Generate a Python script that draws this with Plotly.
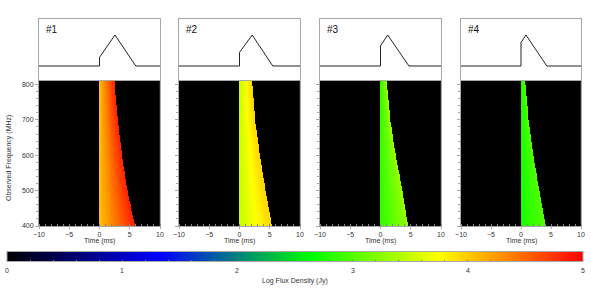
import numpy as np
import plotly.graph_objects as go

W, H = 591, 295

# ---- data ----
panel_labels = ["#1", "#2", "#3", "#4"]
freq_pts = [400, 500, 600, 700, 800]            # MHz
# time (ms) of the trailing edge of the burst at each frequency above
edge_ms = [
    [5.90, 4.65, 3.75, 3.05, 2.56],
    [5.42, 4.35, 3.40, 2.62, 2.18],
    [4.60, 3.65, 2.55, 1.65, 1.12],
    [4.15, 3.10, 2.10, 1.30, 0.80],
]
logflux_start = [4.05, 3.50, 2.85, 2.75]        # log Jy at t = 0
logflux_end = [4.85, 3.97, 3.30, 3.00]          # log Jy at trailing edge
lc_time = [
    [-10, 0, 0, 2.56, 6.0, 10],
    [-10, 0, 0, 2.10, 5.5, 10],
    [-10, 0, 0, 1.19, 4.7, 10],
    [-10, 0, 0, 0.83, 4.3, 10],
]
lc_flux = [
    [0, 0, 0.28, 1, 0, 0],
    [0, 0, 0.44, 1, 0, 0],
    [0, 0, 0.65, 1, 0, 0],
    [0, 0, 0.76, 1, 0, 0],
]
x_ticks = [-10, -5, 0, 5, 10]
y_ticks = [400, 500, 600, 700, 800]
cbar_ticks = [0, 1, 2, 3, 4, 5]

# ---- layout geometry (pixels) ----
cols_px = [(39, 160), (179, 300), (320, 441), (461, 581)]
top_px = (19, 81)
heat_px = (81, 226)
cbar_px = (7, 583, 253, 263)   # x0, x1, y0, y1

def px_x(a):
    return a / W

def px_y(a):
    return 1 - a / H

FONT = "Liberation Sans, Arial, sans-serif"
TXT = "#333333"
FRAME = "#a8a8a8"

colorscale = [
    [0.0, "#000000"],
    [0.266, "#0000ff"],
    [0.53, "#00ff00"],
    [0.75, "#ffff00"],
    [1.0, "#ff0000"],
]

fig = go.Figure()

t_grid = np.linspace(-10, 10, 401)
f_grid = np.linspace(400, 810, 165)

layout = dict(
    template="none",
    width=W, height=H,
    margin=dict(l=0, r=0, t=0, b=0),
    paper_bgcolor="white",
    plot_bgcolor="white",
    showlegend=False,
    hovermode=False,
    font=dict(family=FONT, size=7, color=TXT),
)
annotations = []

for i in range(4):
    ia = 2 * i + 1   # top (light curve)
    ib = 2 * i + 2   # heatmap
    x0, x1 = cols_px[i]
    dom_x = [px_x(x0), px_x(x1)]

    # light curve
    fig.add_trace(go.Scatter(
        x=lc_time[i], y=lc_flux[i], mode="lines",
        line=dict(color="#222222", width=1),
        xaxis=f"x{ia}", yaxis=f"y{ia}", hoverinfo="skip",
    ))

    # dynamic spectrum
    edges = np.interp(f_grid, freq_pts, edge_ms[i])
    T, E = np.meshgrid(t_grid, edges)
    frac = T / E
    inside = (T >= 0) & (T <= E)
    z = np.where(inside,
                 logflux_start[i] + (logflux_end[i] - logflux_start[i]) * frac,
                 0.0)
    fig.add_trace(go.Heatmap(
        x=t_grid, y=f_grid, z=z, coloraxis="coloraxis", zsmooth=False,
        xaxis=f"x{ib}", yaxis=f"y{ib}", hoverinfo="skip",
    ))

    layout[f"xaxis{ia}"] = dict(
        domain=dom_x, range=[-10, 10], anchor=f"y{ia}",
        showline=True, mirror=True, linecolor=FRAME, linewidth=1,
        showgrid=False, zeroline=False, showticklabels=False, ticks="",
    )
    layout[f"yaxis{ia}"] = dict(
        domain=[px_y(top_px[1]), px_y(top_px[0])], range=[-0.484, 1.516],
        anchor=f"x{ia}",
        showline=True, mirror=True, linecolor=FRAME, linewidth=1,
        showgrid=False, zeroline=False, showticklabels=False, ticks="",
    )
    layout[f"xaxis{ib}"] = dict(
        domain=dom_x, range=[-10, 10], anchor=f"y{ib}",
        showline=True, mirror=True, linecolor=FRAME, linewidth=1,
        showgrid=False, zeroline=False,
        tickmode="array", tickvals=x_ticks, ticks="outside", ticklen=2,
        tickcolor=FRAME, tickfont=dict(size=7, color=TXT, family=FONT),
        minor=dict(dtick=1, ticks="inside", ticklen=2, tickcolor="#888888",
                   showgrid=False),
    )
    layout[f"yaxis{ib}"] = dict(
        domain=[px_y(heat_px[1]), px_y(heat_px[0])], range=[400, 810],
        anchor=f"x{ib}",
        showline=True, mirror=True, linecolor=FRAME, linewidth=1,
        showgrid=False, zeroline=False,
        tickmode="array", tickvals=y_ticks, ticks="outside", ticklen=3,
        tickcolor=FRAME, showticklabels=(i == 0),
        tickfont=dict(size=7, color=TXT, family=FONT),
        minor=dict(dtick=20, ticks="outside", ticklen=2, tickcolor=FRAME,
                   showgrid=False),
    )

    annotations.append(dict(
        text=panel_labels[i], xref="paper", yref="paper",
        x=px_x(x0 + 5), y=px_y(29), xanchor="left", yanchor="middle",
        showarrow=False, font=dict(size=10, color="#111111", family=FONT),
    ))
    annotations.append(dict(
        text="Time (ms)", xref="paper", yref="paper",
        x=px_x((x0 + x1) / 2), y=px_y(241), xanchor="center", yanchor="middle",
        showarrow=False, font=dict(size=7, color=TXT, family=FONT),
    ))

annotations.append(dict(
    text="Observed Frequency (MHz)", xref="paper", yref="paper",
    x=px_x(9), y=px_y(158), xanchor="center", yanchor="middle", textangle=-90,
    showarrow=False, font=dict(size=7, color=TXT, family=FONT),
))
annotations.append(dict(
    text="Log Flux Density (Jy)", xref="paper", yref="paper",
    x=px_x(295), y=px_y(281), xanchor="center", yanchor="middle",
    showarrow=False, font=dict(size=7, color=TXT, family=FONT),
))

# colorbar tick labels as annotations (placed a few px below the bar)
cb_x0, cb_x1, cb_y0, cb_y1 = cbar_px
for v in cbar_ticks:
    xpix = cb_x0 + (cb_x1 - cb_x0) * v / 5.0
    annotations.append(dict(
        text=str(v), xref="paper", yref="paper",
        x=px_x(xpix), y=px_y(270.5), xanchor="center", yanchor="middle",
        showarrow=False, font=dict(size=7, color=TXT, family=FONT),
    ))

cb_vals = [round(v * 0.2, 1) for v in range(26)]

layout["coloraxis"] = dict(
    cmin=0, cmax=5, colorscale=colorscale,
    colorbar=dict(
        orientation="h", lenmode="pixels", len=cb_x1 - cb_x0,
        thickness=cb_y1 - cb_y0, thicknessmode="pixels",
        x=px_x((cb_x0 + cb_x1) / 2), xanchor="center",
        y=px_y((cb_y0 + cb_y1) / 2), yanchor="middle",
        xpad=0, ypad=0,
        outlinecolor=FRAME, outlinewidth=1,
        tickmode="array", tickvals=cb_vals, ticktext=[""] * len(cb_vals),
        ticks="inside", ticklen=2, tickcolor="#777777",
        tickfont=dict(size=7, color=TXT, family=FONT),
    ),
)
layout["annotations"] = annotations
fig.update_layout(**layout)

fig.write_html(
    "out.html",
    config={"displayModeBar": False},
    post_script="document.body.style.margin='0';document.body.style.padding='0';",
)
